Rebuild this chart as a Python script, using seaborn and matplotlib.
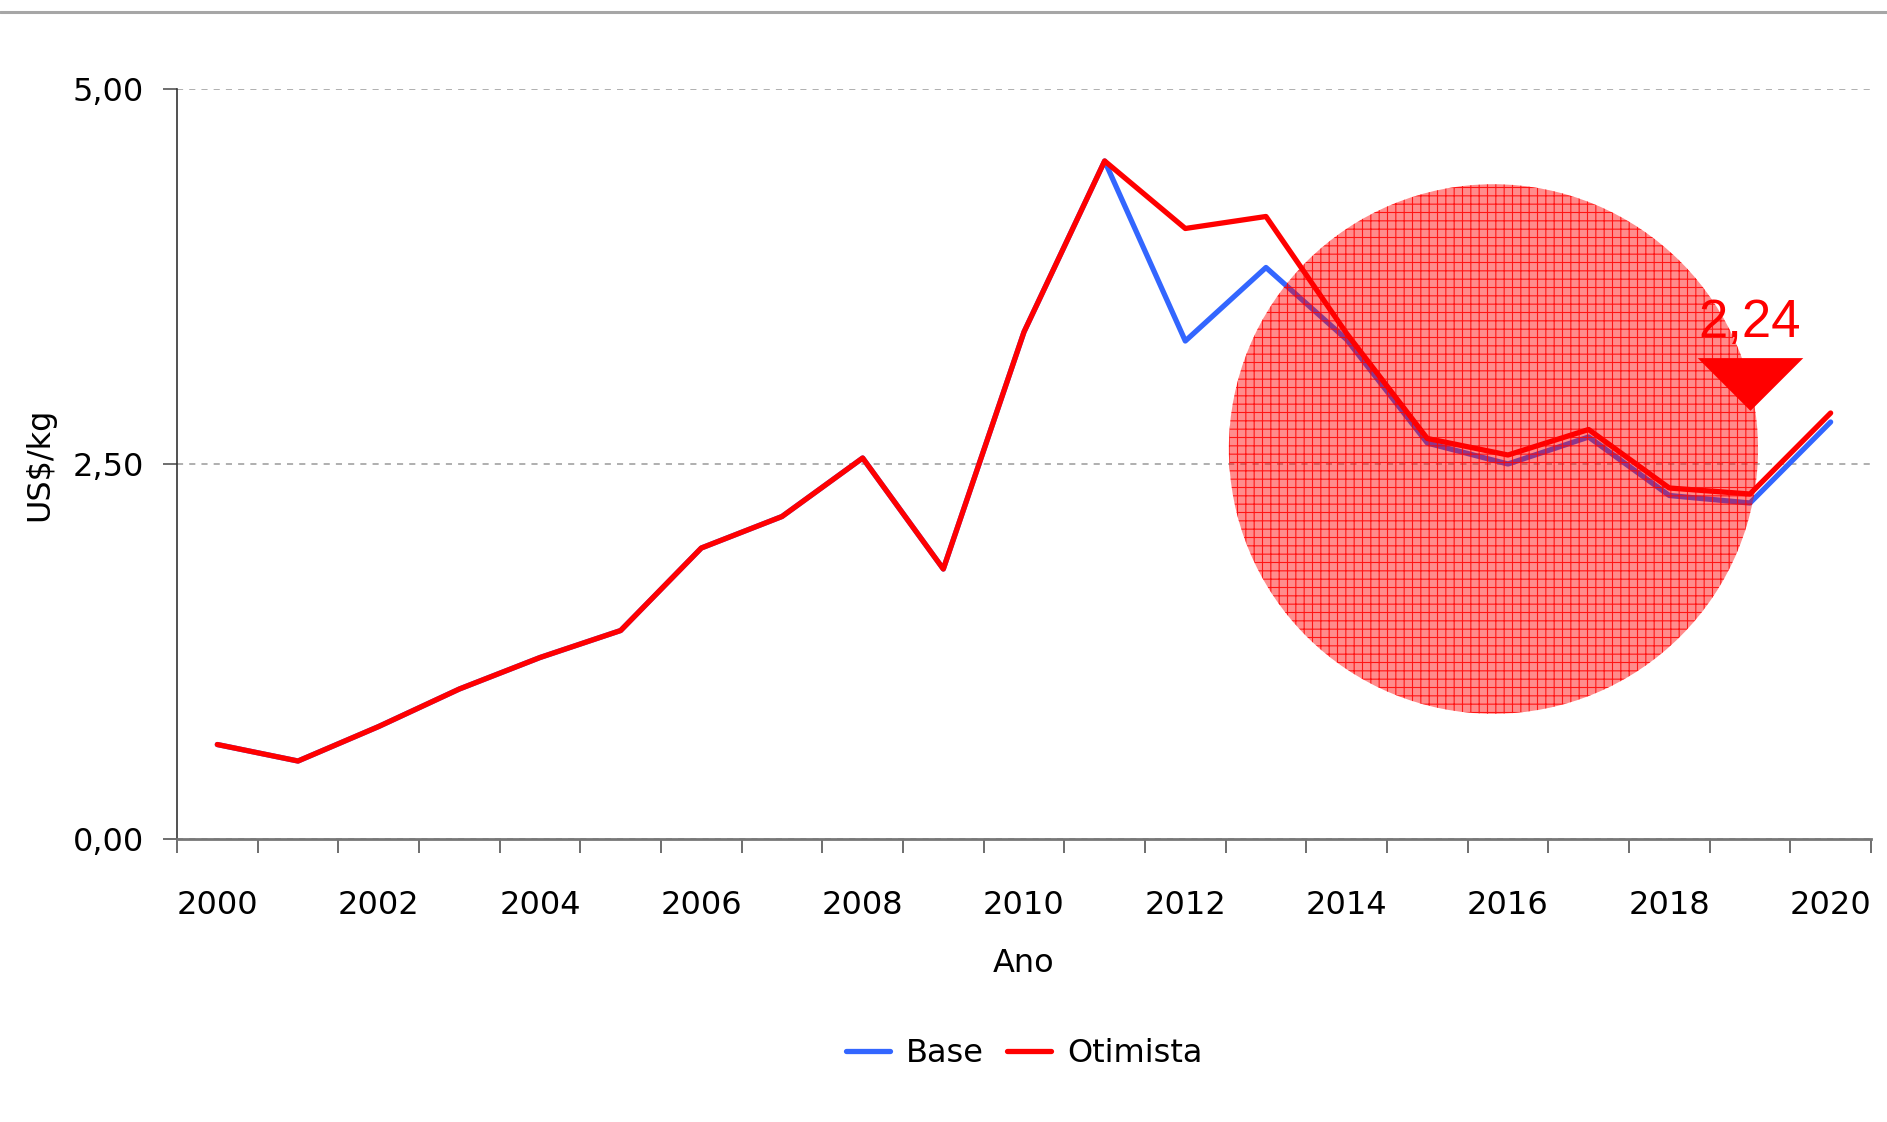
import numpy as np
import pandas as pd
import seaborn as sns
import matplotlib.pyplot as plt
import matplotlib.font_manager as fm
from matplotlib.patches import Ellipse
from matplotlib.lines import Line2D
from matplotlib.ticker import FuncFormatter

# dados
anos = list(range(2000, 2021))
base = [0.63, 0.52, 0.75, 1.00, 1.21, 1.39, 1.94, 2.15, 2.54, 1.80, 3.38, 4.52,
        3.32, 3.81, 3.33, 2.64, 2.50, 2.68, 2.29, 2.24, 2.78]
otimista = [0.63, 0.52, 0.75, 1.00, 1.21, 1.39, 1.94, 2.15, 2.54, 1.80, 3.38, 4.52,
            4.07, 4.15, 3.37, 2.67, 2.56, 2.73, 2.34, 2.30, 2.84]
cenarios = ["Base", "Otimista"]
cores = {"Base": "#3366FF", "Otimista": "#FF0000"}
destaque_ano = 2019
destaque_txt = "2,24"

df = pd.DataFrame({
    "Ano": anos * 2,
    "valor": base + otimista,
    "Cenário": ["Base"] * len(anos) + ["Otimista"] * len(anos),
})

sns.set_style("white")

# fonte estreita, se houver
nomes = {f.name for f in fm.fontManager.ttflist}
if "Liberation Sans Narrow" in nomes:
    fonte, tam = "Liberation Sans Narrow", 28
else:
    fonte, tam = "DejaVu Sans", 23
plt.rcParams["font.family"] = [fonte, "DejaVu Sans"]
plt.rcParams["text.color"] = "black"
plt.rcParams["axes.labelcolor"] = "black"

fig = plt.figure(figsize=(18.87, 11.22), dpi=100)
ax = fig.add_axes([0.0938, 0.2522, 0.8977, 0.6685])

sns.lineplot(data=df, x="Ano", y="valor", hue="Cenário", hue_order=cenarios,
             palette=cores, linewidth=3.8, ax=ax, legend=False)

ax.set_xlim(anos[0] - 0.5, anos[-1] + 0.5)
ax.set_ylim(0, 5)

# eixo y
ax.set_yticks([0, 2.5, 5])
ax.yaxis.set_major_formatter(FuncFormatter(lambda v, p: f"{v:.2f}".replace(".", ",")))
ax.tick_params(axis="y", direction="out", length=10, width=1.2, color="#555555",
               labelsize=tam, labelcolor="black", pad=14, left=True)
ax.grid(axis="y", linestyle=(0, (4, 4)), color="#9A9A9A", linewidth=1.1)
ax.grid(axis="x", visible=False)

# eixo x: marcas nas fronteiras, rótulos a cada 2 anos
ax.set_xticks(np.arange(anos[0] - 0.5, anos[-1] + 1), minor=True)
ax.set_xticks(anos[::2])
ax.set_xticklabels([str(a) for a in anos[::2]])
ax.tick_params(axis="x", which="minor", direction="out", length=10, width=1.2,
               color="#555555", bottom=True)
ax.tick_params(axis="x", which="major", length=0, labelsize=tam, labelcolor="black",
               pad=37)

for s in ["top", "right"]:
    ax.spines[s].set_visible(False)
ax.spines["left"].set_color("#333333")
ax.spines["left"].set_linewidth(1.2)
ax.spines["bottom"].set_color("#777777")
ax.spines["bottom"].set_linewidth(2)

ax.set_xlabel("Ano", fontsize=tam)
ax.xaxis.set_label_coords(0.5, -0.145)
ax.set_ylabel("US$/kg", fontsize=tam)
ax.yaxis.set_label_coords(-0.072, 0.5)

# círculo de destaque
centro = (2015.82, 2.60)
largura, altura = 6.56, 3.53
ax.add_patch(Ellipse(centro, largura, altura, facecolor=(1, 0, 0, 0.45),
                     edgecolor="none", zorder=5))
plt.rcParams["hatch.linewidth"] = 0.8
ax.add_patch(Ellipse(centro, largura, altura, facecolor="none",
                     edgecolor=(1, 0, 0, 0.85), linewidth=0, hatch="++", zorder=5))

# marcador e valor destacado
ax.plot([destaque_ano], [3.03], marker=[(-1, 0.5), (1, 0.5), (0, -0.5)],
        markersize=76, color="#FF0000", markeredgewidth=0, zorder=6)
ax.text(destaque_ano, 3.44, destaque_txt, color="#FF0000", fontsize=38,
        family=["Liberation Sans", "DejaVu Sans"], ha="center", va="center", zorder=6)

# legenda
handles = [Line2D([0], [0], color=cores[c], linewidth=3.8, solid_capstyle="round")
           for c in cenarios]
fig.legend(handles, cenarios, loc="center", bbox_to_anchor=(0.5427, 0.061), ncol=2,
           frameon=False, fontsize=tam, handlelength=1.4, handletextpad=0.5,
           columnspacing=0.7)

# linha cinza no topo
fig.add_artist(Line2D([0, 1], [0.989, 0.989], transform=fig.transFigure,
                      color="#A6A6A6", linewidth=2.2))

fig.savefig("out.png", dpi=100)
